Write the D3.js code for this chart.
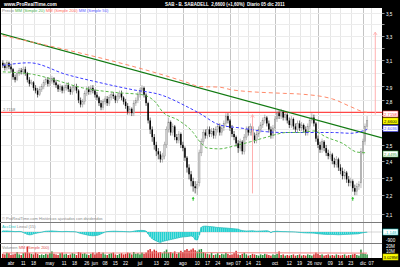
<!DOCTYPE html>
<html>
<head>
<meta charset="utf-8">
<script src="https://cdn.jsdelivr.net/npm/d3@7"></script>
<style>
  body { margin: 0; background: #000; }
  svg { display: block; font-family: "Liberation Sans", Arial, sans-serif; }
</style>
</head>
<body>
<svg id="chart" width="400" height="267"></svg>
<script>
// primer dia = indice -4 (28 mar 2011), indice 0 = 1 abr 2011, dias de mercado
const firstDay = -4;
const open = [
  3.08,3.06,3.04,3.08,3.05, 3.03,2.97,2.95,3.00,3.02,
  3.01,3.03,3.00,2.95,2.92, 2.93,2.89,2.87,2.84,2.88,
  2.90,2.93,2.95,2.92,2.94, 2.96,2.93,2.91,2.88,2.90,
  2.87,2.89,2.91,2.88,2.86, 2.89,2.90,2.87,2.80,2.77,
  2.79,2.85,2.88,2.86,2.89, 2.87,2.84,2.82,2.78,2.75,
  2.79,2.81,2.78,2.82,2.84, 2.83,2.80,2.83,2.85,2.82,
  2.79,2.76,2.72,2.74,2.71, 2.78,2.80,2.84,2.87,2.89,
  2.84,2.78,2.66,2.60,2.55, 2.50,2.46,2.44,2.41,2.43,
  2.50,2.60,2.65,2.58,2.62, 2.55,2.53,2.57,2.50,2.48,
  2.42,2.36,2.32,2.28,2.25, 2.24,2.27,2.45,2.52,2.58,
  2.56,2.60,2.57,2.59,2.56, 2.60,2.62,2.58,2.61,2.64,
  2.69,2.66,2.61,2.57,2.55, 2.51,2.48,2.52,2.46,2.55,
  2.60,2.58,2.62,2.56,2.53, 2.57,2.60,2.63,2.66,2.68,
  2.64,2.60,2.56,2.61,2.67, 2.71,2.69,2.72,2.68,2.70,
  2.66,2.63,2.67,2.62,2.60, 2.64,2.61,2.63,2.60,2.58,
  2.62,2.66,2.68,2.64,2.54, 2.50,2.47,2.52,2.48,2.45,
  2.43,2.44,2.40,2.38,2.41, 2.36,2.34,2.31,2.33,2.29,
  2.27,2.28,2.24,2.22,2.25, 2.27,2.46,2.52,2.62
];
const high = [
  3.10,3.08,3.10,3.09,3.07, 3.04,2.99,3.02,3.04,3.04,
  3.05,3.05,3.01,2.97,2.95, 2.94,2.91,2.89,2.90,2.92,
  2.95,2.97,2.97,2.96,2.98, 2.97,2.95,2.92,2.92,2.91,
  2.91,2.93,2.93,2.90,2.91, 2.92,2.92,2.88,2.82,2.81,
  2.87,2.90,2.90,2.91,2.91, 2.88,2.86,2.83,2.80,2.81,
  2.83,2.83,2.84,2.86,2.86, 2.84,2.85,2.87,2.87,2.83,
  2.81,2.78,2.76,2.75,2.80, 2.82,2.86,2.89,2.91,2.90,
  2.85,2.79,2.68,2.62,2.57, 2.52,2.48,2.46,2.45,2.52,
  2.62,2.68,2.66,2.64,2.63, 2.57,2.59,2.58,2.52,2.49,
  2.43,2.38,2.34,2.30,2.28, 2.28,2.47,2.54,2.60,2.60,
  2.62,2.62,2.61,2.61,2.62, 2.64,2.64,2.63,2.66,2.71,
  2.71,2.67,2.63,2.59,2.56, 2.53,2.54,2.53,2.57,2.62,
  2.62,2.64,2.63,2.58,2.59, 2.62,2.65,2.68,2.70,2.69,
  2.66,2.62,2.63,2.69,2.73, 2.73,2.74,2.73,2.72,2.71,
  2.68,2.69,2.68,2.64,2.66, 2.66,2.65,2.64,2.62,2.64,
  2.68,2.71,2.70,2.65,2.56, 2.52,2.54,2.53,2.50,2.47,
  2.46,2.45,2.42,2.43,2.42, 2.38,2.36,2.35,2.34,2.31,
  2.30,2.29,2.26,2.27,2.28, 2.48,2.54,2.64,2.69
];
const low = [
  3.04,3.02,3.02,3.03,3.01, 2.95,2.93,2.94,2.98,2.99,
  2.99,2.98,2.93,2.90,2.91, 2.87,2.85,2.82,2.83,2.86,
  2.88,2.91,2.90,2.90,2.92, 2.91,2.89,2.86,2.86,2.85,
  2.85,2.87,2.86,2.84,2.84, 2.87,2.85,2.78,2.75,2.75,
  2.77,2.83,2.84,2.84,2.85, 2.82,2.80,2.76,2.73,2.73,
  2.77,2.76,2.76,2.80,2.81, 2.78,2.78,2.81,2.80,2.77,
  2.74,2.70,2.70,2.69,2.69, 2.76,2.78,2.82,2.85,2.82,
  2.76,2.64,2.57,2.52,2.47, 2.43,2.41,2.39,2.39,2.41,
  2.48,2.58,2.56,2.56,2.53, 2.51,2.51,2.48,2.46,2.40,
  2.33,2.29,2.25,2.22,2.21, 2.20,2.25,2.43,2.50,2.54,
  2.54,2.55,2.55,2.54,2.54, 2.58,2.56,2.56,2.59,2.62,
  2.64,2.59,2.55,2.53,2.49, 2.45,2.46,2.44,2.44,2.53,
  2.56,2.56,2.54,2.51,2.51, 2.55,2.58,2.61,2.64,2.62,
  2.58,2.54,2.54,2.59,2.65, 2.67,2.67,2.66,2.66,2.64,
  2.61,2.61,2.60,2.58,2.58, 2.59,2.59,2.58,2.56,2.56,
  2.60,2.64,2.62,2.52,2.48, 2.45,2.45,2.46,2.43,2.41,
  2.41,2.38,2.36,2.36,2.34, 2.32,2.29,2.29,2.27,2.25,
  2.25,2.22,2.20,2.20,2.23, 2.24,2.44,2.50,2.60
];
const close = [
  3.06,3.04,3.08,3.05,3.03, 2.97,2.95,3.00,3.02,3.01,
  3.03,3.00,2.95,2.92,2.93, 2.89,2.87,2.84,2.88,2.90,
  2.93,2.95,2.92,2.94,2.96, 2.93,2.91,2.88,2.90,2.87,
  2.89,2.91,2.88,2.86,2.89, 2.90,2.87,2.80,2.77,2.79,
  2.85,2.88,2.86,2.89,2.87, 2.84,2.82,2.78,2.75,2.79,
  2.81,2.78,2.82,2.84,2.83, 2.80,2.83,2.85,2.82,2.79,
  2.76,2.72,2.74,2.71,2.78, 2.80,2.84,2.87,2.89,2.84,
  2.78,2.66,2.60,2.55,2.50, 2.46,2.44,2.41,2.43,2.50,
  2.60,2.65,2.58,2.62,2.55, 2.53,2.57,2.50,2.48,2.42,
  2.36,2.32,2.28,2.25,2.24, 2.26,2.45,2.52,2.58,2.56,
  2.60,2.57,2.59,2.56,2.60, 2.62,2.58,2.61,2.64,2.69,
  2.66,2.61,2.57,2.55,2.51, 2.48,2.52,2.46,2.55,2.60,
  2.58,2.62,2.56,2.53,2.57, 2.60,2.63,2.66,2.68,2.64,
  2.60,2.56,2.61,2.67,2.71, 2.69,2.72,2.68,2.70,2.66,
  2.63,2.67,2.62,2.60,2.64, 2.61,2.63,2.60,2.58,2.62,
  2.66,2.68,2.64,2.54,2.50, 2.47,2.52,2.48,2.45,2.43,
  2.44,2.40,2.38,2.41,2.36, 2.34,2.31,2.33,2.29,2.27,
  2.28,2.24,2.22,2.25,2.26, 2.46,2.52,2.62,2.66
];
// volumen en millones
const volume = [
  7,6,9,8,5, 6,7,10,6,5,
  8,9,19,8,7, 6,9,7,5,6,
  5,7,6,8,11, 7,6,5,8,9,
  6,7,5,6,8, 7,5,10,9,7,
  8,6,5,7,9, 6,8,10,7,9,
  6,5,7,8,9, 6,5,7,8,6,
  7,9,8,6,10, 7,8,6,9,7,
  9,13,15,11,14, 12,9,10,8,11,
  14,9,10,8,11, 7,9,12,10,13,
  15,12,14,16,13, 11,14,15,10,8,
  7,6,9,5,6, 8,5,7,6,9,
  7,5,6,8,12, 6,5,7,9,6,
  4,5,7,6,5, 4,6,5,7,6,
  5,4,6,5,7, 11,5,6,4,5,
  4,5,6,4,5, 6,4,5,4,6,
  5,4,6,9,7, 5,6,4,5,6,
  4,5,4,6,5, 4,5,6,4,5,
  5,6,7,5,4, 14,8,7,6
];
// indicador del panel central
const accDist = [
  120,100,110,90,80, 60,40,50,60,40,
  -50,-150,-250,-300,-280, -200,-150,-100,-60,-20,
  40,80,90,100,110, 90,80,60,50,40,
  50,60,50,40,40, 30,0,-80,-150,-200,
  -250,-300,-350,-380,-400, -380,-350,-300,-200,-100,
  0,40,60,70,80, 80,70,60,60,50,
  40,30,20,40,80, 120,150,160,170,150,
  100,-200,-500,-700,-850, -950,-1050,-1100,-1000,-950,
  -900,-850,-800,-750,-700, -650,-600,-550,-520,-500,
  -480,-450,-420,-500,-800, -850,-300,500,600,620,
  600,580,560,540,500, 480,460,450,430,420,
  400,380,360,340,320, 300,200,150,120,100,
  110,120,130,100,80, 90,100,110,120,130,
  80,-60,40,60,80, 60,50,40,40,30,
  20,20,10,0,-20, -40,-60,-80,-90,-100,
  -100,-110,-120,-150,-180, -200,-220,-240,-250,-260,
  -250,-260,-270,-280,-290, -280,-270,-260,-250,-240,
  -230,-220,-210,-200,-180, -120,-80,-40,-20
];
// medias moviles [dia, valor]
const mm20 = [[-4,3.01],[11,2.99],[19,2.96],[35,2.89],[52,2.855],[64,2.84],[71,2.78],[74,2.72],[82,2.66],
  [89,2.58],[92,2.525],[96,2.48],[102,2.475],[108,2.49],[117,2.52],[125,2.55],[135,2.58],[141,2.58],
  [148,2.59],[154,2.55],[162,2.51],[169,2.455],[174,2.45]];
const mm50 = [[-4,3.06],[9,3.08],[27,2.99],[43,2.93],[60,2.875],[73,2.84],[86,2.755],[92,2.71],[102,2.63],
  [112,2.61],[117,2.60],[125,2.585],[133,2.58],[149,2.58],[157,2.58],[166,2.575],[174,2.60]];
const mm200 = [[-4,3.30],[86,2.93],[92,2.90],[102,2.895],[108,2.875],[133,2.85],[141,2.845],[157,2.81],
  [166,2.755],[172,2.72],[174,2.716]];
const volMM = [[-4,8.5],[60,8.3],[100,8.8],[174,8.0]];
const trendLine = [[-5.4,3.32],[181.3,2.545]];
const levelLine = 2.7158;
const pinkArrows = [[118,2.21,2.70],[178,2.70,3.33]];
const greenArrows = [[89,2.18],[167,2.18]];

const dateTicks = [0,6,11,19,26,31,37,41,46,51,56,63,71,76,84,91,96,101,107,111,116,121,129,136,141,146,150,156,161,166,172,176];
const dateLabels = ['abr','11','18','may','11','18','26','jun','08','15','22','jul','13','20','ago','10','17','24',
  'sep','07','14','21','oct','12','19','26','nov','09','16','23','dic','07'];
const priceTicks = [2.1,2.2,2.3,2.4,2.5,2.6,2.7,2.8,2.9,3.0,3.1,3.2,3.3,3.4,3.5];
const priceLabelled = [2.1,2.2,2.3,2.4,2.5,2.8,2.9,3.1,3.3,3.5];

const svg = d3.select('#chart');
const W = 400, H = 267, plotR = 382;
const main = {top: 8, bottom: 222};
const mid = {top: 223, bottom: 243};
const vol = {top: 244, bottom: 258};

const x = d3.scaleLinear().domain([0, 172]).range([11, 363]);
const y = d3.scaleLog().domain([2.1, 3.5]).range([213.5, 12.5]);
const yInd = d3.scaleLinear().domain([-900, 0]).range([240.5, 232]);
const yVol = d3.scaleLinear().domain([0, 20]).range([vol.bottom, 246]);
const comma = d3.formatLocale({decimal: ',', thousands: '.', grouping: [3], currency: ['', '€']});
const f1 = comma.format('.1f');

const days = close.map((d, i) => i + firstDay);

// fondo
svg.append('rect').attr('width', W).attr('height', H).attr('fill', '#000');
[main, mid, vol].forEach(p => {
  svg.append('rect').attr('x', 1).attr('y', p.top).attr('width', plotR - 1)
    .attr('height', p.bottom - p.top).attr('fill', '#fff');
});

const defs = svg.append('defs');
[['clipMain', main], ['clipMid', mid], ['clipVol', vol]].forEach(([id, p]) => {
  defs.append('clipPath').attr('id', id).append('rect')
    .attr('x', 1).attr('y', p.top).attr('width', plotR - 1).attr('height', p.bottom - p.top);
});

// rejilla vertical en los tres paneles
const isMonth = l => isNaN(+l);
[main, mid, vol].forEach(p => {
  svg.append('g').selectAll('line').data(dateTicks).enter().append('line')
    .attr('x1', d => Math.round(x(d)) + 0.5).attr('x2', d => Math.round(x(d)) + 0.5)
    .attr('y1', p.top).attr('y2', p.bottom)
    .attr('stroke', (d, i) => isMonth(dateLabels[i]) ? '#c4c4c4' : '#e6e6e6')
    .attr('stroke-width', 1);
});

// rejilla horizontal de precios
svg.append('g').selectAll('line').data(priceTicks).enter().append('line')
  .attr('x1', 1).attr('x2', plotR)
  .attr('y1', d => Math.round(y(d)) + 0.5).attr('y2', d => Math.round(y(d)) + 0.5)
  .attr('stroke', '#ececec');

const chart = svg.append('g').attr('clip-path', 'url(#clipMain)');

// linea horizontal 2,7158
chart.append('line')
  .attr('x1', 1).attr('x2', plotR).attr('y1', y(levelLine)).attr('y2', y(levelLine))
  .attr('stroke', '#ff4646').attr('stroke-width', 1.2);
chart.append('text').attr('x', 3).attr('y', y(levelLine) - 1.5)
  .attr('font-size', 4).attr('fill', '#777').text('2.7158');

// velas
const candles = chart.append('g').selectAll('g').data(days).enter().append('g');
candles.append('line')
  .attr('x1', d => x(d)).attr('x2', d => x(d))
  .attr('y1', (d, i) => y(high[i])).attr('y2', (d, i) => y(low[i]))
  .attr('stroke', (d, i) => close[i] >= open[i] ? '#8c8c8c' : '#000').attr('stroke-width', 0.6);
candles.append('rect')
  .attr('x', d => x(d) - 0.75).attr('width', 1.5)
  .attr('y', (d, i) => y(Math.max(open[i], close[i])))
  .attr('height', (d, i) => Math.max(0.8, y(Math.min(open[i], close[i])) - y(Math.max(open[i], close[i]))))
  .attr('fill', (d, i) => close[i] >= open[i] ? '#cfcfcf' : '#000')
  .attr('stroke', (d, i) => close[i] >= open[i] ? '#8c8c8c' : 'none').attr('stroke-width', 0.4);

// medias moviles y directriz
const line = d3.line().x(d => x(d[0])).y(d => y(d[1])).curve(d3.curveMonotoneX);
chart.append('path').datum(trendLine).attr('d', d3.line().x(d => x(d[0])).y(d => y(d[1])))
  .attr('fill', 'none').attr('stroke', '#127a12').attr('stroke-width', 1.3);
chart.append('path').datum(mm200).attr('d', line).attr('fill', 'none')
  .attr('stroke', '#ff8a6a').attr('stroke-width', 1).attr('stroke-dasharray', '4,3');
chart.append('path').datum(mm50).attr('d', line).attr('fill', 'none')
  .attr('stroke', '#3c3cff').attr('stroke-width', 1).attr('stroke-dasharray', '3,2');
chart.append('path').datum(mm20).attr('d', line).attr('fill', 'none')
  .attr('stroke', '#59b84a').attr('stroke-width', 1).attr('stroke-dasharray', '3,2');

// flechas
pinkArrows.forEach(([d, v0, v1]) => {
  chart.append('line').attr('x1', x(d)).attr('x2', x(d)).attr('y1', y(v0)).attr('y2', y(v1))
    .attr('stroke', '#ffb0b0').attr('stroke-width', 1);
  chart.append('path')
    .attr('d', `M${x(d) - 1.8},${y(v1) + 3}L${x(d)},${y(v1)}L${x(d) + 1.8},${y(v1) + 3}`)
    .attr('fill', 'none').attr('stroke', '#ffb0b0').attr('stroke-width', 0.8);
});
greenArrows.forEach(([d, v]) => {
  chart.append('path')
    .attr('d', `M${x(d)},${y(v) - 2}l-1.5,2h1v2h1v-2h1z`)
    .attr('fill', '#1fbf1f');
});

// textos del panel principal
const legend = svg.append('text').attr('x', 2).attr('y', 11.5).attr('font-size', 4.2);
[['Precio', '#888'], [' MM (Simple 20)', '#49b049'], [' MM (Simple 200)', '#ff6a5a'], [' MM (Simple 50)', '#5a5aff']]
  .forEach(([t, c]) => legend.append('tspan').attr('fill', c).text(t));
svg.append('text').attr('x', 2).attr('y', 220).attr('font-size', 4).attr('fill', '#888')
  .text('© ProRealTime.com  Históricos ajustados con dividendos');

// panel indicador
const midG = svg.append('g').attr('clip-path', 'url(#clipMid)');
midG.append('line').attr('x1', 1).attr('x2', plotR).attr('y1', yInd(0)).attr('y2', yInd(0))
  .attr('stroke', '#bbb').attr('stroke-width', 0.6);
midG.selectAll('rect').data(days).enter().append('rect')
  .attr('x', d => x(d) - 0.9).attr('width', 1.8)
  .attr('y', (d, i) => Math.min(yInd(0), yInd(accDist[i])))
  .attr('height', (d, i) => Math.abs(yInd(accDist[i]) - yInd(0)))
  .attr('fill', '#22d0d0');
midG.append('path').datum(days).attr('fill', 'none').attr('stroke', '#2bbcbc').attr('stroke-width', 0.8)
  .attr('d', d3.line().x(d => x(d)).y((d, i) => yInd(accDist[i])));
svg.append('text').attr('x', 2).attr('y', 227.5).attr('font-size', 4).attr('fill', '#888')
  .call(t => {
    t.append('tspan').attr('fill', '#22bcbc').text('AccDist');
    t.append('tspan').text(' Lineal (15)');
  });

// panel volumen
const volG = svg.append('g').attr('clip-path', 'url(#clipVol)');
volG.selectAll('rect').data(days).enter().append('rect')
  .attr('x', d => x(d) - 0.75).attr('width', 1.5)
  .attr('y', (d, i) => yVol(volume[i]))
  .attr('height', (d, i) => vol.bottom - yVol(volume[i]))
  .attr('fill', (d, i) => close[i] >= open[i] ? '#2a8f3a' : '#d42a2a');
volG.append('path').datum(volMM).attr('d', d3.line().x(d => x(d[0])).y(d => yVol(d[1])))
  .attr('fill', 'none').attr('stroke', '#f08080').attr('stroke-width', 1.2).attr('opacity', 0.8);
svg.append('text').attr('x', 2).attr('y', 248.5).attr('font-size', 4).attr('fill', '#888')
  .call(t => {
    t.append('tspan').text('Volumen ');
    t.append('tspan').attr('fill', '#e05050').text('MM (Simple 200)');
  });

// separadores de paneles
[main.bottom + 0.5, mid.bottom + 0.5].forEach(v => {
  svg.append('line').attr('x1', 0).attr('x2', plotR).attr('y1', v).attr('y2', v)
    .attr('stroke', '#7a7a7a').attr('stroke-width', 1);
});

// eje de fechas
svg.append('g').selectAll('text').data(dateTicks).enter().append('text')
  .attr('x', d => x(d)).attr('y', 265).attr('text-anchor', 'middle')
  .attr('font-size', 4.6).attr('fill', '#fff').text((d, i) => dateLabels[i]);

// eje de precios
const axisR = svg.append('g');
axisR.selectAll('line').data(priceTicks).enter().append('line')
  .attr('x1', plotR).attr('x2', plotR + 2.5)
  .attr('y1', d => Math.round(y(d)) + 0.5).attr('y2', d => Math.round(y(d)) + 0.5)
  .attr('stroke', '#fff').attr('stroke-width', 0.6);
axisR.selectAll('text').data(priceLabelled).enter().append('text')
  .attr('x', plotR + 4).attr('y', d => y(d) + 3.2)
  .attr('font-size', 4.6).attr('fill', '#fff').text(d => f1(d));

function valueBox(v, yy, fill, stroke, col) {
  svg.append('rect').attr('x', plotR + 1).attr('y', yy - 3).attr('width', 15).attr('height', 6)
    .attr('fill', fill).attr('stroke', stroke).attr('stroke-width', 0.6);
  svg.append('text').attr('x', plotR + 8.5).attr('y', yy + 1.6).attr('text-anchor', 'middle')
    .attr('font-size', 4.2).attr('fill', col).text(v);
}
valueBox('2,7158', 114, '#fff', '#ff4040', '#ff4040');
valueBox('2,6600', 121, '#ffff00', '#cccc00', '#000');
valueBox('2,6036', 128.5, '#fff', '#4040ff', '#4040ff');
valueBox('2,4495', 154, '#fff', '#40a040', '#40a040');
valueBox('-1.148', 232, '#fff', '#22c0c0', '#22c0c0');
valueBox('3.028M', 257, '#ffff00', '#cccc00', '#000');
svg.append('text').attr('x', plotR + 4).attr('y', 241.5).attr('font-size', 4.6).attr('fill', '#fff').text('-900');
svg.append('text').attr('x', plotR + 4).attr('y', 247.5).attr('font-size', 4.6).attr('fill', '#fff').text('20M');
svg.append('text').attr('x', plotR + 4).attr('y', 253).attr('font-size', 4.6).attr('fill', '#fff').text('10M');

// cabecera
svg.append('text').attr('x', 4).attr('y', 5.5).attr('font-size', 4.8).attr('font-weight', 'bold')
  .attr('fill', '#fff').text('www.ProRealTime.com');
svg.append('text').attr('x', 165).attr('y', 5.5).attr('font-size', 4.5).attr('font-weight', 'bold')
  .attr('fill', '#fff').attr('xml:space', 'preserve').text('SAB - B. SABADELL  2,6600 (+1,60%)  Diario 05 dic 2011');
</script>
</body>
</html>
